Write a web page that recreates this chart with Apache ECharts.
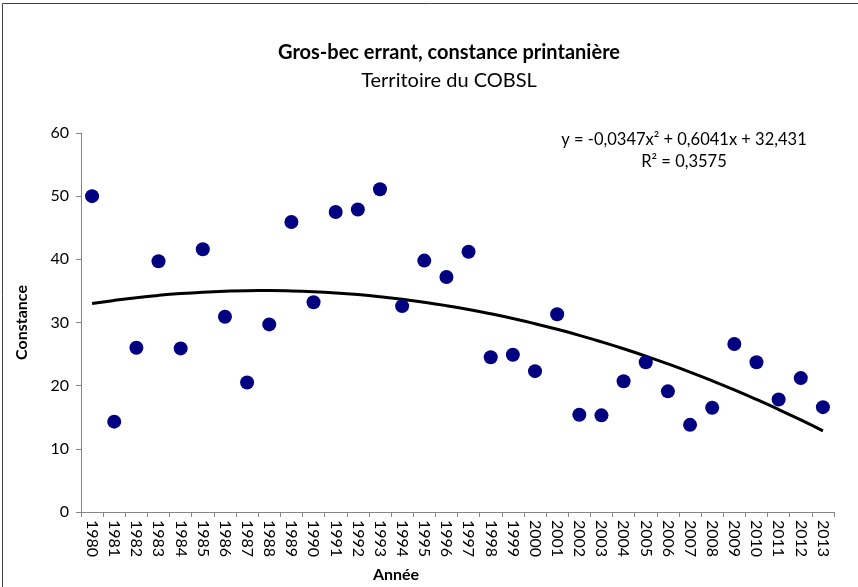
<!DOCTYPE html>
<html>
<head>
<meta charset="utf-8">
<script src="https://cdn.jsdelivr.net/npm/echarts@6/dist/echarts.min.js"></script>
<style>
  html, body { margin: 0; padding: 0; background: #fff; }
  #main { width: 858px; height: 587px; }
</style>
</head>
<body>
<div id="main"></div>
<script>
// années
const years = ["1980", "1981", "1982", "1983", "1984", "1985", "1986", "1987", "1988", "1989",
  "1990", "1991", "1992", "1993", "1994", "1995", "1996", "1997", "1998", "1999",
  "2000", "2001", "2002", "2003", "2004", "2005", "2006", "2007", "2008", "2009",
  "2010", "2011", "2012", "2013"];
// constance printanière (%)
const constance = [50.0, 14.3, 26.0, 39.7, 25.9, 41.6, 30.9, 20.5, 29.7, 45.9,
  33.2, 47.5, 47.9, 51.1, 32.6, 39.8, 37.2, 41.2, 24.5, 24.9,
  22.3, 31.3, 15.4, 15.3, 20.7, 23.7, 19.1, 13.8, 16.5, 26.6,
  23.7, 17.8, 21.2, 16.6];
// courbe de tendance polynomiale (coefficients affichés sur le graphique)
const trendCoef = [-0.0347, 0.6041, 32.431];
const equationText = "y = -0,0347x² + 0,6041x + 32,431";
const r2Text = "R² = 0,3575";

const trend = years.map((y, i) => {
  const x = i + 1;
  return +(trendCoef[0] * x * x + trendCoef[1] * x + trendCoef[2]).toFixed(3);
});

const FONT = "Lato";
const chart = echarts.init(document.getElementById("main"));
chart.setOption({
  animation: false,
  textStyle: { fontFamily: FONT, color: "#000" },
  title: {
    text: "Gros-bec errant, constance printanière",
    subtext: "Territoire du COBSL",
    left: 444,
    textAlign: "center",
    top: 38,
    itemGap: 8,
    textStyle: { fontFamily: FONT, fontSize: 20, fontWeight: "bold", color: "#000" },
    subtextStyle: { fontFamily: FONT, fontSize: 20, color: "#000" }
  },
  graphic: [
    {
      type: "rect",
      shape: { x: 2.5, y: 3.5, width: 900, height: 700 },
      style: { fill: "none", stroke: "#404040", lineWidth: 1 }
    },
    {
      type: "text",
      x: 684, y: 140,
      style: { text: equationText, font: "16.5px " + FONT, fill: "#000", align: "center", verticalAlign: "middle" }
    },
    {
      type: "text",
      x: 684, y: 162,
      style: { text: r2Text, font: "16.5px " + FONT, fill: "#000", align: "center", verticalAlign: "middle" }
    },
    {
      type: "text",
      x: 396, y: 575,
      style: { text: "Année", font: "bold 16px " + FONT, fill: "#000", align: "center", verticalAlign: "middle" }
    }
  ],
  grid: { left: 81, right: 24, top: 133, bottom: 75, containLabel: false },
  xAxis: {
    type: "category",
    data: years,
    boundaryGap: true,
    axisLine: { lineStyle: { color: "#868686", width: 1 } },
    axisTick: { show: true, alignWithLabel: false, length: 5, lineStyle: { color: "#868686" } },
    axisLabel: { rotate: -90, interval: 0, fontSize: 16, color: "#000", margin: 8 },
    splitLine: { show: false }
  },
  yAxis: {
    type: "value",
    min: 0, max: 60, interval: 10,
    name: "Constance",
    nameLocation: "middle",
    nameGap: 51,
    nameTextStyle: { fontWeight: "bold", fontSize: 16, color: "#000" },
    axisLine: { show: true, lineStyle: { color: "#868686", width: 1 } },
    axisTick: { show: true, length: 5, lineStyle: { color: "#868686" } },
    axisLabel: { fontSize: 16, color: "#000", margin: 12 },
    splitLine: { show: false }
  },
  series: [
    {
      name: "Constance",
      type: "scatter",
      data: constance,
      symbol: "circle",
      symbolSize: 14,
      itemStyle: { color: "#000080", opacity: 1 },
      z: 3
    },
    {
      name: "Tendance",
      type: "line",
      data: trend,
      smooth: true,
      showSymbol: false,
      symbol: "none",
      lineStyle: { color: "#000", width: 3 },
      z: 2
    }
  ]
});
</script>
</body>
</html>
